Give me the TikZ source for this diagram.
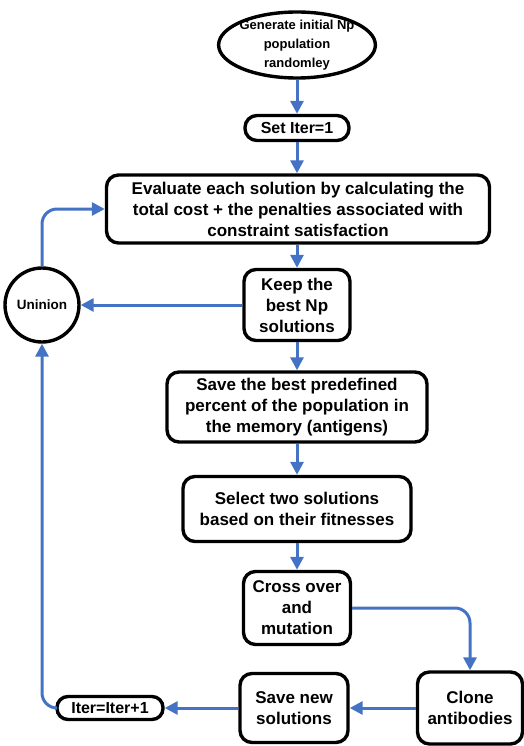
\documentclass[tikz,border=0pt]{standalone}
\usepackage{fontspec}
\setmainfont{Liberation Sans}
\usetikzlibrary{arrows.meta,shapes.geometric}
\definecolor{vblack}{HTML}{000000}
\definecolor{vblue}{HTML}{4472C4}

\tikzset{
	box/.style={draw = vblack, line width = 3.4pt, rounded corners = 12pt, fill = white, align = center, inner sep = 0pt, font = \bfseries\fontsize{17}{21}\selectfont},
	flow/.style={draw = vblue, line width = 3pt, rounded corners = 15pt, -{Triangle[length = 13pt, width = 13pt]}}
}

\begin{document}
\begin{tikzpicture}[x = 1pt, y = -1pt]
		\useasboundingbox (0,0) rectangle (523,746);
		% main column
		\node[draw = vblack, line width = 3.4pt, ellipse, minimum width = 152, minimum height = 66, inner xsep = -2pt, inner ysep = -4pt, align = center, font = \bfseries\fontsize{13}{19}\selectfont] (gen) at (297,45) {Generate initial Np\\population\\randomley};
		\node[box, rounded corners = 12pt, minimum width = 104, minimum height = 25, font = \bfseries\fontsize{16}{18}\selectfont] (set) at (297,128) {Set Iter=1};
		\node[box, minimum width = 383, minimum height = 68] (eval) at (298,209) {Evaluate each solution by calculating the\\total cost + the penalties associated with\\constraint satisfaction};
		\node[box, minimum width = 106, minimum height = 71] (keep) at (297,305) {Keep the\\best Np\\solutions};
		\node[box, minimum width = 260, minimum height = 70] (best) at (297,407) {Save the best predefined\\percent of the population in\\the memory (antigens)};
		\node[box, minimum width = 228, minimum height = 65] (sel) at (297,509) {Select two solutions\\based on their fitnesses};
		\node[box, minimum width = 107, minimum height = 73] (cross) at (297,608) {Cross over\\and\\mutation};
		% bottom row
		\node[box, minimum width = 105, minimum height = 72] (clone) at (470,708) {Clone\\antibodies};
		\node[box, minimum width = 108, minimum height = 69] (new) at (294,708) {Save new\\solutions};
		\node[box, rounded corners = 11pt, minimum width = 106, minimum height = 23, font = \bfseries\fontsize{16}{18}\selectfont] (iter) at (110,708) {Iter=Iter+1};
		% loop back
		\node[draw = vblack, line width = 3.4pt, circle, minimum size = 74, inner sep = 0pt, font = \bfseries\fontsize{13.5}{15}\selectfont] (un) at (42,305) {Uninion};

		\draw[flow] (gen) -- (set);
		\draw[flow] (set) -- (set |- eval.north);
		\draw[flow] (keep |- eval.south) -- (keep);
		\draw[flow] (keep) -- (best);
		\draw[flow] (best) -- (sel);
		\draw[flow] (sel) -- (cross);
		\draw[flow] (cross.east) -| (clone.north);
		\draw[flow] (clone) -- (new);
		\draw[flow] (new) -- (iter);
		\draw[flow] (iter.west) -| (un.south);
		\draw[flow] (keep) -- (un);
		\draw[flow] (un.north) |- (eval.west);
	\end{tikzpicture}
\end{document}
